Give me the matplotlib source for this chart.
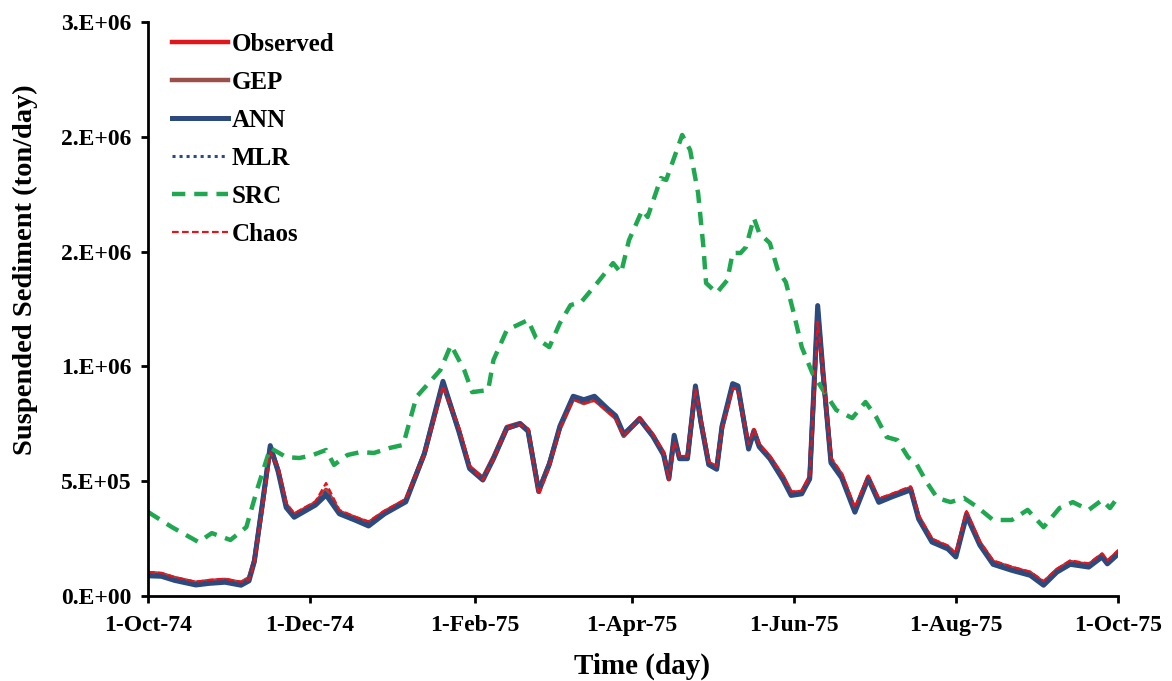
import datetime
import numpy as np
import matplotlib
matplotlib.use("Agg")
import matplotlib.pyplot as plt
import matplotlib.dates as mdates

START = datetime.date(1974, 10, 1)

# day offsets from 1-Oct-74 and values in ton/day
obs_days = [0, 5, 10, 18, 23, 29, 35, 38, 40, 43, 46, 49, 52, 55, 63, 67, 72, 78, 83, 89,
            97, 104, 111, 117, 121, 126, 130, 135, 140, 143, 147, 151, 155, 160, 164, 168,
            173, 176, 179, 185, 190, 194, 196, 198, 200, 203, 206, 208, 211, 214, 216, 220,
            222, 226, 228, 230, 234, 239, 242, 246, 249, 252, 254, 257, 261, 266, 271, 275,
            280, 287, 290, 295, 301, 304, 308, 313, 318, 325, 332, 337, 342, 347, 354, 359,
            361, 365]
observed = [100e3, 96e3, 78e3, 57e3, 65e3, 70e3, 57e3, 78e3, 157e3, 396e3, 649e3, 549e3, 396e3,
            353e3, 405e3, 462e3, 366e3, 340e3, 318e3, 366e3, 418e3, 623e3, 928e3, 723e3, 562e3,
            514e3, 605e3, 736e3, 753e3, 723e3, 462e3, 579e3, 736e3, 867e3, 845e3, 862e3, 810e3,
            780e3, 701e3, 775e3, 701e3, 623e3, 518e3, 688e3, 605e3, 605e3, 910e3, 766e3, 579e3,
            562e3, 736e3, 919e3, 910e3, 649e3, 723e3, 658e3, 605e3, 518e3, 449e3, 453e3, 518e3,
            1246e3, 971e3, 592e3, 527e3, 375e3, 518e3, 418e3, 440e3, 470e3, 344e3, 244e3, 213e3,
            179e3, 361e3, 231e3, 148e3, 122e3, 100e3, 57e3, 113e3, 148e3, 135e3, 179e3, 148e3,
            192e3]
gep = [98e3, 94e3, 76e3, 56e3, 63e3, 68e3, 56e3, 76e3, 150e3, 390e3, 640e3, 545e3, 392e3,
       350e3, 402e3, 458e3, 362e3, 337e3, 315e3, 362e3, 415e3, 618e3, 920e3, 720e3, 558e3,
       510e3, 600e3, 730e3, 748e3, 718e3, 458e3, 575e3, 730e3, 860e3, 840e3, 856e3, 805e3,
       775e3, 697e3, 770e3, 697e3, 618e3, 515e3, 680e3, 600e3, 600e3, 900e3, 760e3, 575e3,
       558e3, 730e3, 910e3, 902e3, 645e3, 718e3, 652e3, 600e3, 515e3, 446e3, 450e3, 512e3,
       1230e3, 965e3, 588e3, 522e3, 372e3, 512e3, 415e3, 436e3, 465e3, 340e3, 240e3, 210e3,
       176e3, 355e3, 228e3, 145e3, 120e3, 98e3, 55e3, 110e3, 145e3, 132e3, 175e3, 145e3,
       188e3]
ann = [88e3, 86e3, 68e3, 48e3, 55e3, 60e3, 47e3, 66e3, 150e3, 400e3, 655e3, 540e3, 385e3,
       343e3, 396e3, 440e3, 358e3, 330e3, 305e3, 358e3, 410e3, 620e3, 935e3, 715e3, 555e3,
       505e3, 598e3, 730e3, 750e3, 718e3, 455e3, 572e3, 740e3, 870e3, 855e3, 870e3, 815e3,
       785e3, 705e3, 770e3, 695e3, 615e3, 510e3, 700e3, 598e3, 598e3, 915e3, 760e3, 572e3,
       552e3, 740e3, 925e3, 915e3, 640e3, 715e3, 650e3, 598e3, 505e3, 438e3, 445e3, 510e3,
       1265e3, 975e3, 580e3, 515e3, 365e3, 512e3, 408e3, 432e3, 462e3, 335e3, 235e3, 205e3,
       170e3, 350e3, 222e3, 138e3, 112e3, 90e3, 47e3, 104e3, 138e3, 126e3, 170e3, 140e3,
       182e3]
mlr = [95e3, 92e3, 75e3, 55e3, 62e3, 67e3, 55e3, 75e3, 160e3, 392e3, 640e3, 545e3, 393e3,
       350e3, 402e3, 455e3, 362e3, 338e3, 316e3, 363e3, 415e3, 620e3, 920e3, 720e3, 560e3,
       512e3, 602e3, 732e3, 750e3, 720e3, 460e3, 576e3, 732e3, 862e3, 842e3, 858e3, 806e3,
       776e3, 700e3, 772e3, 700e3, 620e3, 516e3, 684e3, 602e3, 602e3, 905e3, 762e3, 576e3,
       560e3, 732e3, 915e3, 905e3, 646e3, 720e3, 655e3, 602e3, 516e3, 447e3, 451e3, 515e3,
       1240e3, 968e3, 590e3, 524e3, 373e3, 515e3, 416e3, 438e3, 467e3, 342e3, 242e3, 211e3,
       177e3, 358e3, 229e3, 146e3, 121e3, 99e3, 56e3, 111e3, 146e3, 133e3, 177e3, 146e3,
       190e3]
chaos = [105e3, 100e3, 82e3, 62e3, 70e3, 75e3, 62e3, 72e3, 140e3, 380e3, 625e3, 560e3, 405e3,
         360e3, 412e3, 492e3, 375e3, 345e3, 325e3, 372e3, 422e3, 615e3, 915e3, 735e3, 568e3,
         505e3, 595e3, 730e3, 745e3, 730e3, 440e3, 560e3, 728e3, 855e3, 840e3, 850e3, 805e3,
         772e3, 698e3, 770e3, 705e3, 625e3, 505e3, 672e3, 610e3, 610e3, 900e3, 775e3, 585e3,
         565e3, 725e3, 905e3, 900e3, 660e3, 725e3, 662e3, 610e3, 522e3, 455e3, 458e3, 520e3,
         1195e3, 990e3, 605e3, 535e3, 385e3, 525e3, 425e3, 446e3, 478e3, 352e3, 250e3, 220e3,
         185e3, 370e3, 238e3, 155e3, 128e3, 106e3, 65e3, 118e3, 155e3, 142e3, 186e3, 155e3,
         198e3]

src_days = [0, 9, 19, 24, 31, 37, 41, 46, 52, 57, 62, 67, 70, 75, 80, 85, 91, 96, 101, 110,
            114, 119, 122, 128, 130, 135, 143, 146, 151, 155, 159, 163, 169, 175, 178, 181, 186,
            188, 193, 195, 199, 201, 204, 207, 209, 210, 214, 218, 220, 223, 225, 228, 230, 234,
            237, 240, 243, 246, 250, 254, 259, 265, 270, 274, 278, 282, 286, 289, 293, 297, 302,
            307, 312, 318, 325, 331, 337, 343, 348, 354, 359, 362, 365]
src = [366e3, 300e3, 235e3, 274e3, 244e3, 300e3, 462e3, 645e3, 605e3, 601e3, 614e3, 636e3,
       571e3, 614e3, 627e3, 623e3, 645e3, 658e3, 867e3, 984e3, 1093e3, 984e3, 888e3, 897e3,
       1028e3, 1158e3, 1202e3, 1124e3, 1084e3, 1189e3, 1267e3, 1280e3, 1363e3, 1450e3, 1407e3,
       1550e3, 1681e3, 1651e3, 1820e3, 1812e3, 1942e3, 2008e3, 1942e3, 1755e3, 1520e3, 1363e3,
       1320e3, 1376e3, 1494e3, 1494e3, 1520e3, 1646e3, 1581e3, 1537e3, 1420e3, 1367e3, 1232e3,
       1084e3, 971e3, 897e3, 810e3, 775e3, 845e3, 780e3, 692e3, 679e3, 605e3, 579e3, 496e3,
       427e3, 409e3, 427e3, 388e3, 331e3, 331e3, 375e3, 300e3, 383e3, 409e3, 375e3, 418e3,
       383e3, 431e3]

tick_dates = ["1974-10-01", "1974-12-01", "1975-02-01", "1975-04-01",
              "1975-06-01", "1975-08-01", "1975-10-01"]
ytick_vals = [0, 5e5, 1e6, 1.5e6, 2e6, 2.5e6]
ytick_labels = ["0.E+00", "5.E+05", "1.E+06", "2.E+06", "2.E+06", "3.E+06"]


def to_dates(days):
    return [START + datetime.timedelta(days=d) for d in days]


plt.rcParams["font.family"] = ["Liberation Serif", "DejaVu Serif"]
plt.rcParams["font.weight"] = "bold"

fig = plt.figure(figsize=(11.72, 6.81), dpi=100)
ax = fig.add_axes([0.1263, 0.1248, 0.8276, 0.8429])

od = to_dates(obs_days)
ax.plot(od, observed, color="#e3141b", lw=3.2, label="Observed")
ax.plot(od, gep, color="#9b4f4a", lw=3.2, label="GEP")
ax.plot(od, ann, color="#2c4a7e", lw=3.6, label="ANN")
ax.plot(od, mlr, color="#2c4a7e", lw=2.2, ls=(0, (1, 1.3)), label="MLR")
ax.plot(to_dates(src_days), src, color="#1fa84f", lw=3.2, ls=(0, (3, 2)), label="SRC")
ax.plot(od, chaos, color="#e3141b", lw=1.6, ls=(0, (3, 1.5)), label="Chaos")

ax.set_xlim(START, datetime.date(1975, 10, 1))
ax.set_ylim(0, 2.5e6)
ax.set_xticks([mdates.datestr2num(d) for d in tick_dates])
ax.xaxis.set_major_formatter(plt.FuncFormatter(
    lambda v, p: "{}-{}".format(mdates.num2date(v).day, mdates.num2date(v).strftime("%b-%y"))))
ax.set_yticks(ytick_vals)
ax.set_yticklabels(ytick_labels)

for s in ["top", "right"]:
    ax.spines[s].set_visible(False)
for s in ["left", "bottom"]:
    ax.spines[s].set_linewidth(2)
ax.tick_params(axis="both", direction="out", length=5, width=2, labelsize=17, pad=7)
ax.tick_params(axis="x", pad=9)

ax.set_xlabel("Time (day)", fontsize=21, fontweight="bold")
ax.set_ylabel("Suspended Sediment (ton/day)", fontsize=20.5, fontweight="bold")
ax.xaxis.set_label_coords(0.509, -0.098)
ax.yaxis.set_label_coords(-0.113, 0.568)

ax.legend(loc="upper left", bbox_to_anchor=(0.0144, 0.998), frameon=False, fontsize=18,
          borderaxespad=0, handlelength=2.24, handletextpad=0.15, labelspacing=0.6)

fig.savefig("out.png", dpi=100)
